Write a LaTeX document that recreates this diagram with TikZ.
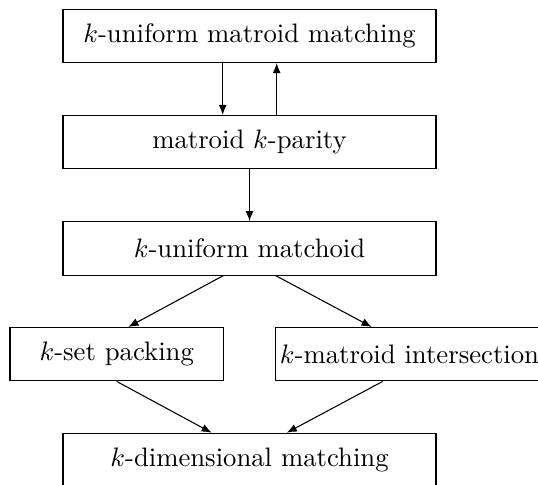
\documentclass[tikz,border=0pt]{standalone}
\usetikzlibrary{arrows.meta,calc}
\begin{document}
\begin{tikzpicture}[x=0.3745pt,y=-0.3745pt,
  box/.style={draw, line width=0.4pt, minimum height=20pt, inner sep=0pt, anchor=center},
  wide/.style={box, minimum width=139.7pt},
  arr/.style={-{Latex[length=3.8pt,width=3pt]}, line width=0.4pt}]
\useasboundingbox (0,0) rectangle (538,485);
\node[wide] (b1) at (249.5,35.8) {$k$-uniform matroid matching};
\node[wide] (b2) at (249.5,142.2) {matroid $k$-parity};
\node[wide] (b3) at (249.5,248.4) {$k$-uniform matchoid};
\node[box, minimum width=79.9pt] (b4) at (116.7,354.2) {$k$-set packing};
\node[box, inner xsep=1.6pt] (b5) at (409.5,354.2) {$k$-matroid intersection};
\node[wide] (b6) at (249.5,460) {$k$-dimensional matching};
\draw[arr] ($(b1.south)+(-26.8,0)$) -- ($(b2.north)+(-26.8,0)$);
\draw[arr] ($(b2.north)+(27.2,0)$) -- ($(b1.south)+(27.2,0)$);
\draw[arr] (b2.south) -- (b3.north);
\draw[arr] ($(b3.south)+(-26.2,0)$) -- ($(b4.north)+(11.6,0)$);
\draw[arr] ($(b3.south)+(26.2,0)$) -- ($(b5.north)+(-37.8,0)$);
\draw[arr] (b4.south) -- ($(b6.north)+(-37.8,0)$);
\draw[arr] ($(b5.south)+(-26.8,0)$) -- ($(b6.north)+(37.2,0)$);
\end{tikzpicture}
\end{document}
